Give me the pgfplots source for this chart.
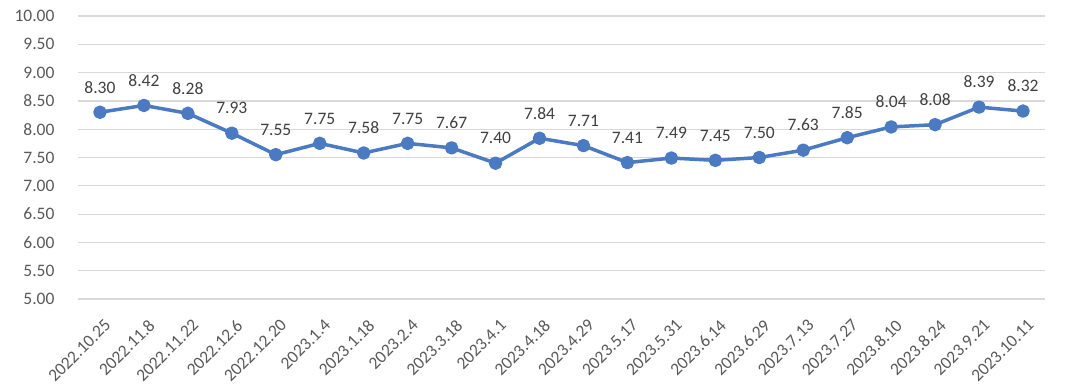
\documentclass[border=0pt]{standalone}
\usepackage{fontspec}
\setmainfont{Carlito}
\usepackage{pgfplots}
\pgfplotsset{compat=1.18}
\definecolor{lineblue}{RGB}{74,122,193}
\definecolor{gridgray}{RGB}{217,217,217}
\definecolor{textgray}{RGB}{89,89,89}
\definecolor{labelgray}{RGB}{64,64,64}
\begin{document}
\begin{tikzpicture}[x=1pt,y=1pt]
\useasboundingbox (-78pt,-85pt) rectangle (1002pt,299pt);
\begin{axis}[
  at={(0,0)}, anchor=south west,
  scale only axis,
  width=967pt, height=283pt,
  xmin=-0.5, xmax=21.5,
  ymin=5, ymax=10,
  ytick={5,5.5,...,10},
  yticklabel style={/pgf/number format/fixed, /pgf/number format/fixed zerofill, /pgf/number format/precision=2, /tikz/xshift=-20pt},
  /pgf/number format/assume math mode=true,
  xtick={0,...,21},
  xticklabels={2022.10.25,2022.11.8,2022.11.22,2022.12.6,2022.12.20,2023.1.4,2023.1.18,2023.2.4,2023.3.18,2023.4.1,2023.4.18,2023.4.29,2023.5.17,2023.5.31,2023.6.14,2023.6.29,2023.7.13,2023.7.27,2023.8.10,2023.8.24,2023.9.21,2023.10.11},
  x tick label style={rotate=45, anchor=north east, inner sep=1pt, xshift=-10pt, yshift=-15pt},
  ticklabel style={font=\fontsize{17.5}{20}\selectfont, text=textgray},
  ymajorgrids, major grid style={gridgray, line width=1.2pt},
  axis line style={draw=none},
  major tick length=0pt,
  tick style={draw=none},
  clip=false,
  nodes near coords,
  nodes near coords style={font=\fontsize{17.5}{20}\selectfont, text=labelgray, /pgf/number format/fixed, /pgf/number format/fixed zerofill, /pgf/number format/precision=2, /tikz/yshift=14pt},
]
\addplot[color=lineblue, line width=3.5pt, line join=round, mark=*, mark size=5pt, mark options={fill=lineblue, draw=none}] coordinates {
(0,8.30) (1,8.42) (2,8.28) (3,7.93) (4,7.55) (5,7.75) (6,7.58) (7,7.75) (8,7.67) (9,7.40) (10,7.84) (11,7.71) (12,7.41) (13,7.49) (14,7.45) (15,7.50) (16,7.63) (17,7.85) (18,8.04) (19,8.08) (20,8.39) (21,8.32)
};
\end{axis}
\end{tikzpicture}
\end{document}
